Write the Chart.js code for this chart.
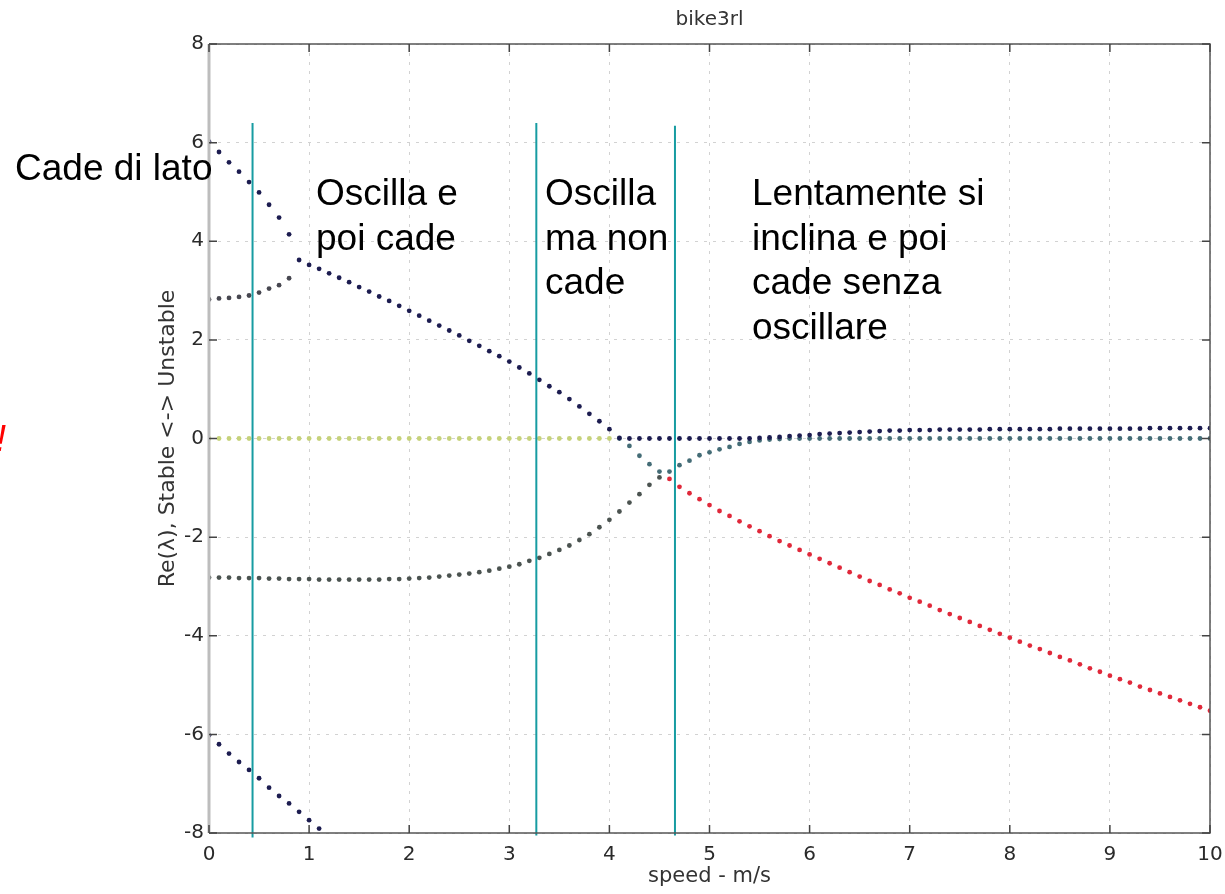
<!DOCTYPE html>
<html>
<head>
<meta charset="utf-8">
<title>bike3rl</title>
<script src="https://cdn.jsdelivr.net/npm/chart.js@4.4.1/dist/chart.umd.min.js"></script>
<style>
  html, body { margin: 0; padding: 0; background: #fff; }
  #wrap { width: 1225px; height: 894px; position: relative; }
</style>
</head>
<body>
<div id="wrap"><canvas id="myChart"></canvas></div>
<script>
// speed grid, m/s (one sample every 0.1)
const speeds = Array.from({ length: 101 }, (_, i) => i / 10);

// Re(lambda), each list starts at the speed index given below
const navyMain = [
  6.02, 5.81, 5.60, 5.41, 5.20, 4.99, 4.74, 4.48, 4.14, 3.62,
  3.52, 3.44, 3.35, 3.26, 3.17, 3.07, 2.98, 2.88, 2.79, 2.69,
  2.59, 2.49, 2.39, 2.29, 2.19, 2.09, 1.98, 1.88, 1.77, 1.67,
  1.56, 1.44, 1.32, 1.19, 1.06, 0.94, 0.80, 0.65, 0.50, 0.35,
  0.19, 0.01, 0.00, 0.00, 0.00, 0.00, 0.00, 0.00, 0.00, 0.00,
  0.00, 0.00, 0.00, 0.00, 0.00, 0.01, 0.02, 0.03, 0.05, 0.06,
  0.07, 0.09, 0.10, 0.11, 0.12, 0.13, 0.14, 0.15, 0.16, 0.16,
  0.17, 0.17, 0.17, 0.18, 0.18, 0.18, 0.18, 0.18, 0.19, 0.19,
  0.19, 0.19, 0.19, 0.19, 0.19, 0.20, 0.20, 0.20, 0.20, 0.20,
  0.20, 0.20, 0.20, 0.20, 0.21, 0.21, 0.21, 0.21, 0.21, 0.21,
  0.21
];
const navyMainStart = 0;

const upperBranch = [2.82, 2.84, 2.85, 2.87, 2.90, 2.96, 3.04, 3.11, 3.25];
const upperBranchStart = 0;

const lowerBranch = [
  -2.82, -2.82, -2.82, -2.83, -2.83, -2.83, -2.84, -2.84, -2.85, -2.85,
  -2.85, -2.86, -2.86, -2.86, -2.86, -2.86, -2.86, -2.86, -2.85, -2.85,
  -2.84, -2.83, -2.82, -2.80, -2.78, -2.76, -2.74, -2.71, -2.68, -2.64,
  -2.60, -2.55, -2.48, -2.42, -2.34, -2.26, -2.17, -2.06, -1.94, -1.80,
  -1.65, -1.48, -1.30, -1.13, -0.94, -0.79
];
const lowerBranchStart = 0;

const tealBranch = [
  0.00, -0.15, -0.35, -0.52, -0.67, -0.67, -0.54, -0.45, -0.34,
  -0.28, -0.22, -0.17, -0.11, -0.07, -0.04, -0.02, -0.01, 0.00, 0.00,
  0, 0, 0, 0, 0, 0, 0, 0, 0, 0,
  0, 0, 0, 0, 0, 0, 0, 0, 0, 0,
  0, 0, 0, 0, 0, 0, 0, 0, 0, 0,
  0, 0, 0, 0, 0, 0, 0, 0, 0, 0,
  0
];
const tealBranchStart = 41;

const zeroBranch = [
  0, 0, 0, 0, 0, 0, 0, 0, 0, 0,
  0, 0, 0, 0, 0, 0, 0, 0, 0, 0,
  0, 0, 0, 0, 0, 0, 0, 0, 0, 0,
  0, 0, 0, 0, 0, 0, 0, 0, 0, 0,
  0
];
const zeroBranchStart = 0;

const redBranch = [
  -0.82, -0.98, -1.11, -1.23,
  -1.35, -1.47, -1.57, -1.68, -1.78, -1.88, -1.98, -2.08, -2.17, -2.26,
  -2.35, -2.44, -2.53, -2.62, -2.71, -2.80, -2.89, -2.97, -3.06, -3.14,
  -3.23, -3.31, -3.39, -3.48, -3.56, -3.64, -3.72, -3.80, -3.88, -3.96,
  -4.04, -4.12, -4.20, -4.27, -4.35, -4.43, -4.50, -4.58, -4.66, -4.73,
  -4.81, -4.88, -4.95, -5.03, -5.10, -5.17, -5.24, -5.31, -5.38, -5.45,
  -5.52
];
const redBranchStart = 46;

const lowLeft = [-6.02, -6.20, -6.39, -6.56, -6.72, -6.89, -7.08, -7.25, -7.40, -7.57, -7.74, -7.91];
const lowLeftStart = 0;

// hand-drawn markers between regimes
const markX = [0.435, 3.27, 4.655];
const markTop = [6.40, 6.40, 6.34];
const markBottom = [-8.09, -8.05, -8.05];

const xTicks = [0, 1, 2, 3, 4, 5, 6, 7, 8, 9, 10];
const yTicks = [-8, -6, -4, -2, 0, 2, 4, 6, 8];

const notes = [
  { lines: ['Cade di lato'], x: 15, y: 180 },
  { lines: ['Oscilla e', 'poi cade'], x: 316, y: 205 },
  { lines: ['Oscilla', 'ma non', 'cade'], x: 545, y: 205 },
  { lines: ['Lentamente si', 'inclina e poi', 'cade senza', 'oscillare'], x: 752, y: 205 }
];

const axisFont = '"DejaVu Sans", sans-serif';

function pts(start, vals) {
  return vals.map((v, i) => ({ x: speeds[start + i], y: v }));
}

function dots(data, color) {
  return {
    data: data,
    showLine: false,
    pointRadius: 2.4,
    pointHoverRadius: 2.4,
    pointBorderWidth: 0,
    backgroundColor: color,
    borderColor: color
  };
}

const datasets = [];
markX.forEach((x, i) => {
  datasets.push({
    data: [{ x: x, y: markTop[i] }, { x: x, y: markBottom[i] }],
    showLine: true,
    pointRadius: 0,
    borderColor: '#179ca2',
    borderWidth: 2,
    clip: false
  });
});
datasets.push(dots(pts(navyMainStart, navyMain), '#1c1c50'));
datasets.push(dots(pts(lowLeftStart, lowLeft), '#1c1c50'));
datasets.push(dots(pts(upperBranchStart, upperBranch), '#474750'));
datasets.push(dots(pts(lowerBranchStart, lowerBranch), '#4b5350'));
datasets.push(dots(pts(tealBranchStart, tealBranch), '#446c76'));
datasets.push(dots(pts(redBranchStart, redBranch), '#e0283a'));
datasets.push(dots(pts(zeroBranchStart, zeroBranch), '#c6d27a'));

const framePlugin = {
  id: 'frame',
  afterDraw(chart) {
    const { ctx, chartArea: a, scales } = chart;
    ctx.save();
    ctx.strokeStyle = '#555';
    ctx.lineWidth = 1.5;
    ctx.beginPath();
    ctx.moveTo(a.left, a.top); ctx.lineTo(a.right, a.top);
    ctx.lineTo(a.right, a.bottom); ctx.lineTo(a.left, a.bottom);
    ctx.stroke();
    ctx.strokeStyle = '#bdbdbd';
    ctx.lineWidth = 3;
    ctx.beginPath();
    ctx.moveTo(a.left, a.top); ctx.lineTo(a.left, a.bottom);
    ctx.stroke();
    ctx.strokeStyle = '#444';
    ctx.lineWidth = 1.5;
    ctx.beginPath();
    xTicks.forEach(v => {
      const px = scales.x.getPixelForValue(v);
      ctx.moveTo(px, a.bottom); ctx.lineTo(px, a.bottom - 8);
      ctx.moveTo(px, a.top); ctx.lineTo(px, a.top + 8);
    });
    yTicks.forEach(v => {
      const py = scales.y.getPixelForValue(v);
      ctx.moveTo(a.left, py); ctx.lineTo(a.left + 8, py);
      ctx.moveTo(a.right, py); ctx.lineTo(a.right - 8, py);
    });
    ctx.stroke();
    // plot title, centred over the axes box
    ctx.fillStyle = '#333';
    ctx.font = '20px ' + axisFont;
    ctx.textAlign = 'center';
    ctx.textBaseline = 'middle';
    ctx.fillText('bike3rl', (a.left + a.right) / 2, 20);
    ctx.restore();
  }
};

const notesPlugin = {
  id: 'notes',
  afterDraw(chart) {
    const ctx = chart.ctx;
    ctx.save();
    ctx.fillStyle = '#000';
    ctx.font = '37px "Liberation Sans", Arial, sans-serif';
    ctx.textBaseline = 'alphabetic';
    ctx.textAlign = 'left';
    notes.forEach(n => {
      n.lines.forEach((t, i) => ctx.fillText(t, n.x, n.y + i * 44.5));
    });
    // stray red mark cut off at the left edge
    ctx.fillStyle = '#ff0000';
    ctx.font = 'italic 36px "Liberation Sans", Arial, sans-serif';
    ctx.textAlign = 'right';
    ctx.fillText('!', 6, 451);
    ctx.restore();
  }
};

new Chart(document.getElementById('myChart'), {
  type: 'scatter',
  data: { datasets: datasets },
  options: {
    responsive: true,
    maintainAspectRatio: false,
    animation: false,
    events: [],
    layout: { padding: { left: 0, right: 15, top: 44, bottom: 0 } },
    plugins: {
      legend: { display: false },
      tooltip: { enabled: false },
      title: { display: false }
    },
    scales: {
      x: {
        type: 'linear',
        min: 0,
        max: 10,
        afterFit(scale) {
          scale.height = 61;
          scale.paddingRight = 0;
          scale.paddingLeft = 0;
        },
        ticks: {
          stepSize: 1,
          color: '#2a2a2a',
          padding: 10,
          font: { family: axisFont, size: 20 }
        },
        grid: { color: '#d2d2d2', drawTicks: false, lineWidth: 1 },
        border: { display: false, dash: [3, 6] },
        title: {
          display: true,
          text: 'speed - m/s',
          color: '#333',
          padding: { top: 0, bottom: 5 },
          font: { family: axisFont, size: 21 }
        }
      },
      y: {
        type: 'linear',
        min: -8,
        max: 8,
        afterFit(scale) { scale.width = 209; },
        ticks: {
          stepSize: 2,
          color: '#2a2a2a',
          padding: 5,
          font: { family: axisFont, size: 20 }
        },
        grid: { color: '#d2d2d2', drawTicks: false, lineWidth: 1 },
        border: { display: false, dash: [3, 6] },
        title: {
          display: true,
          text: 'Re(λ), Stable <-> Unstable',
          color: '#333',
          padding: { top: 155, bottom: 0 },
          font: { family: axisFont, size: 22 }
        }
      }
    }
  },
  plugins: [framePlugin, notesPlugin]
});
</script>
</body>
</html>
